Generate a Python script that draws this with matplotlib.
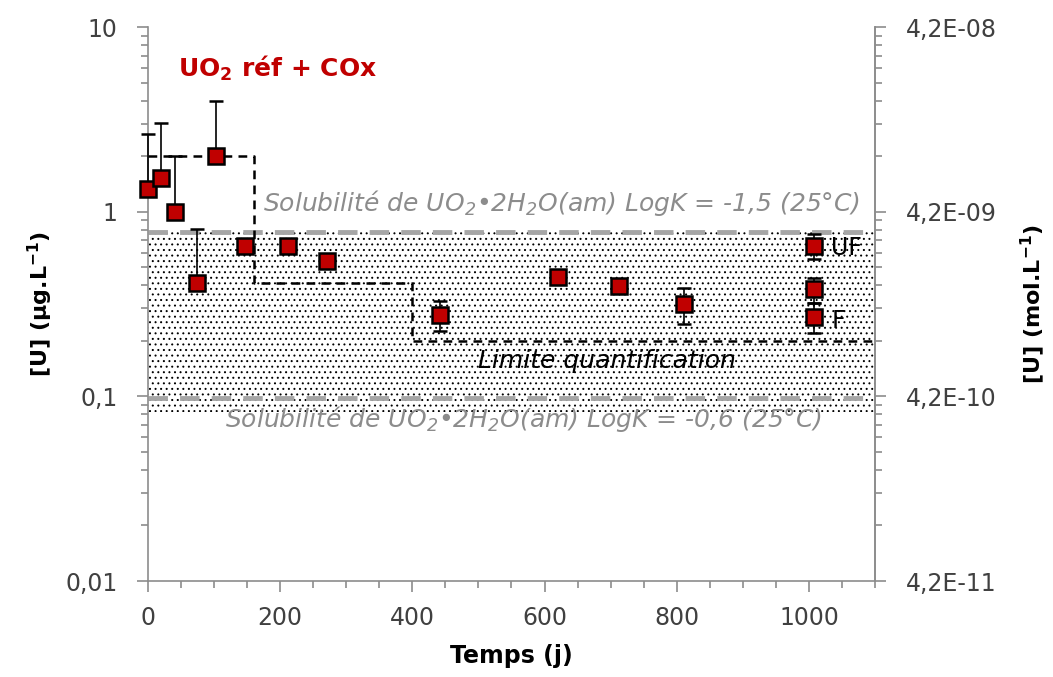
import matplotlib
matplotlib.use('Agg')
import matplotlib.pyplot as plt
import numpy as np

plt.rcParams['font.family'] = ['DejaVu Sans']
plt.rcParams['mathtext.default'] = 'regular'
plt.rcParams['hatch.linewidth'] = 0.7

# données : temps (j) et concentration en U (µg/L)
temps = [0, 20, 41, 74, 103, 147, 212, 271, 442, 620, 713, 811, 1008, 1008, 1008]
u_conc = [1.33, 1.53, 1.0, 0.41, 2.0, 0.655, 0.65, 0.54, 0.277, 0.445, 0.394, 0.318, 0.655, 0.38, 0.27]
err_haut = [1.3, 1.5, 1.0, 0.4, 2.0, 0, 0, 0, 0.05, 0, 0, 0.07, 0.1, 0.06, 0.05]
err_bas = [0, 0, 0, 0, 0, 0, 0, 0, 0.05, 0, 0, 0.07, 0.1, 0.06, 0.05]

# limite de quantification (escalier)
lq_temps = [0, 160, 400, 1100]
lq_val = [2.0, 0.41, 0.2, 0.2]

# solubilités UO2.2H2O(am)
sol_haute = 0.78
sol_basse = 0.098
zone_min, zone_max = 0.082, 0.8

# conversion µg/L -> mol/L
facteur = 4.2e-9
ticks_mol = [4.2e-11, 4.2e-10, 4.2e-9, 4.2e-8]
labels_mol = ['4,2E-11', '4,2E-10', '4,2E-09', '4,2E-08']

fig = plt.figure(figsize=(10.53, 6.77), dpi=100)
ax = fig.add_axes([0.1405, 0.1418, 0.6905, 0.8182])

ax.set_yscale('log')
ax.set_xlim(0, 1100)
ax.set_ylim(0.01, 10)

# zone pointillée entre les deux solubilités
ax.fill_between([0, 1100], zone_min, zone_max, facecolor='none', edgecolor='black',
                hatch='...', linewidth=0, zorder=1)

ax.axhline(sol_haute, color='#A6A6A6', lw=3.5, dashes=(4, 2.5), zorder=2)
ax.axhline(sol_basse, color='#A6A6A6', lw=3.5, dashes=(4, 2.5), zorder=2)

ax.plot(lq_temps, lq_val, drawstyle='steps-post', color='black', lw=1.8,
        dashes=(3.5, 2.5), zorder=3)

ax.errorbar(temps, u_conc, yerr=[err_bas, err_haut], fmt='s', color='black',
            ecolor='black', elinewidth=1.2, capsize=5, capthick=1.2,
            markerfacecolor='#C00000', markeredgecolor='black', markersize=11,
            markeredgewidth=1.8, zorder=4, clip_on=False)

# textes
ax.text(45, 6.0, r'UO$_2$ réf + COx', color='#C00000', fontsize=18,
        fontweight='bold', va='center', ha='left')
ax.text(626, 1.12, r'Solubilité de UO$_2$•2H$_2$O(am) LogK = -1,5 (25°C)',
        color='#8C8C8C', fontsize=18, style='italic', ha='center', va='center')
ax.text(569, 0.075, r'Solubilité de UO$_2$•2H$_2$O(am) LogK = -0,6 (25°C)',
        color='#8C8C8C', fontsize=18, style='italic', ha='center', va='center')
ax.text(694, 0.155, 'Limite quantification', color='black', fontsize=18,
        style='italic', ha='center', va='center')
ax.text(1034, 0.64, 'UF', fontsize=17, ha='left', va='center')
ax.text(1034, 0.255, 'F', fontsize=17, ha='left', va='center')

# axes
gris = '#8C8C8C'
for s in ['left', 'bottom', 'right']:
    ax.spines[s].set_color(gris)
    ax.spines[s].set_linewidth(1.2)
ax.spines['top'].set_visible(False)

ax.set_xticks(np.arange(0, 1001, 200))
ax.set_xticks(np.arange(0, 1101, 50), minor=True)
ax.set_yticks([0.01, 0.1, 1, 10])
ax.set_yticklabels(['0,01', '0,1', '1', '10'])
ax.tick_params(axis='both', which='major', direction='out', length=8, width=1.2,
               color=gris, labelsize=17, labelcolor='#404040')
ax.tick_params(axis='both', which='minor', direction='out', length=5, width=1.2,
               color=gris)
ax.tick_params(axis='y', which='major', pad=14)
ax.tick_params(axis='x', which='major', pad=10)

ax.set_xlabel('Temps (j)', fontsize=17, fontweight='bold', labelpad=10)
ax.set_ylabel(r'[U] (µg.L$^{-1}$)', fontsize=16, fontweight='bold', labelpad=7)

ax2 = ax.twinx()
ax2.set_yscale('log')
ax2.set_ylim(0.01 * facteur, 10 * facteur)
ax2.set_yticks(ticks_mol)
ax2.set_yticklabels(labels_mol)
ax2.set_yticks([t * k for t in ticks_mol[:-1] for k in range(2, 10)], minor=True)
ax2.tick_params(axis='y', which='major', direction='out', length=8, width=1.2,
                color=gris, labelsize=17, labelcolor='#404040', pad=14)
ax2.tick_params(axis='y', which='minor', direction='out', length=5, width=1.2,
                color=gris, labelright=False)
for s in ['left', 'bottom', 'top']:
    ax2.spines[s].set_visible(False)
ax2.spines['right'].set_color(gris)
ax2.spines['right'].set_linewidth(1.2)
ax2.set_ylabel(r'[U] (mol.L$^{-1}$)', fontsize=16, fontweight='bold', labelpad=16)

fig.savefig('out.png', dpi=100)
